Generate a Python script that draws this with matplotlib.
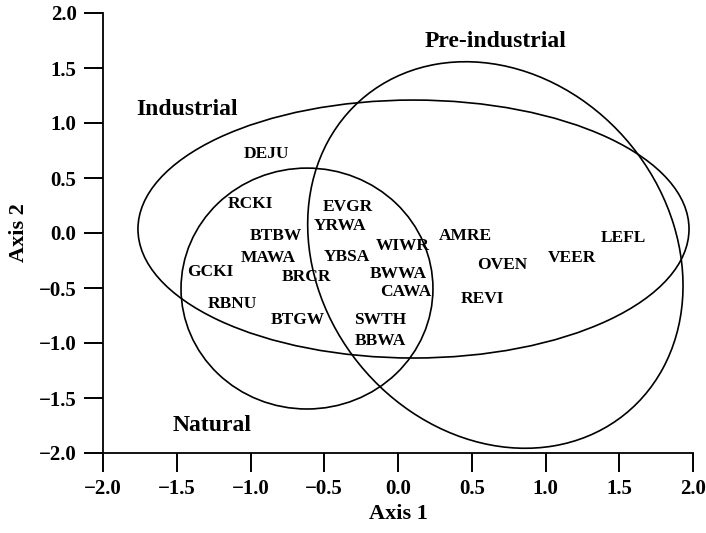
import matplotlib.pyplot as plt
from matplotlib.patches import Ellipse

plt.rcParams["font.family"] = "Liberation Serif"
plt.rcParams["font.weight"] = "bold"
plt.rcParams["axes.labelweight"] = "bold"
plt.rcParams["axes.linewidth"] = 1.3

plt.rcParams["xtick.major.size"] = 14
plt.rcParams["xtick.major.width"] = 1.4
plt.rcParams["ytick.major.size"] = 14
plt.rcParams["ytick.major.width"] = 1.4

species = ["DEJU", "RCKI", "EVGR", "YRWA", "BTBW", "WIWR", "MAWA", "YBSA",
           "GCKI", "BRCR", "BWWA", "CAWA", "RBNU", "BTGW", "SWTH", "BBWA",
           "AMRE", "OVEN", "VEER", "LEFL", "REVI"]
axis1 = [-0.89, -1.00, -0.34, -0.39, -0.83, 0.03, -0.88, -0.35,
         -1.27, -0.62, 0.00, 0.05, -1.12, -0.68, -0.12, -0.12,
         0.46, 0.71, 1.18, 1.53, 0.57]
axis2 = [0.72, 0.26, 0.24, 0.06, -0.03, -0.12, -0.23, -0.22,
         -0.35, -0.40, -0.37, -0.54, -0.65, -0.79, -0.79, -0.98,
         -0.03, -0.29, -0.23, -0.05, -0.60]

groups = ["Industrial", "Pre-industrial", "Natural"]
group_x = [-1.43, 0.66, -1.26]
group_y = [1.12, 1.74, -1.75]

# ellipse centre, width, height, angle for each group
ell_x = [0.105, 0.66, -0.617]
ell_y = [0.036, -0.20, -0.505]
ell_w = [3.736, 2.48, 1.708]
ell_h = [2.345, 3.56, 2.19]
ell_angle = [0, 12.9, 0]

ticks = [-2.0, -1.5, -1.0, -0.5, 0.0, 0.5, 1.0, 1.5, 2.0]
tick_labels = ["\u22122.0", "\u22121.5", "\u22121.0", "\u22120.5", "0.0",
               "0.5", "1.0", "1.5", "2.0"]


def main():
    fig = plt.figure(figsize=(7.06, 5.33), dpi=100)
    ax = fig.add_axes([103 / 706, 80 / 533, 590 / 706, 440 / 533])

    for k in range(len(groups)):
        ax.add_patch(Ellipse((ell_x[k], ell_y[k]), ell_w[k], ell_h[k],
                             angle=ell_angle[k], fill=False,
                             edgecolor="black", lw=1.2))
        ax.text(group_x[k], group_y[k], groups[k], fontsize=17,
                ha="center", va="center")

    for k in range(len(species)):
        ax.text(axis1[k], axis2[k], species[k], fontsize=12.5,
                ha="center", va="center")

    ax.set_xlim(-2, 2)
    ax.set_ylim(-2, 2)
    ax.set_xticks(ticks)
    ax.set_xticklabels(tick_labels, fontsize=15)
    ax.set_yticks(ticks)
    ax.set_yticklabels(tick_labels, fontsize=15)
    ax.tick_params(pad=5)

    ax.spines["top"].set_visible(False)
    ax.spines["right"].set_visible(False)

    ax.set_xlabel("Axis 1", fontsize=16, labelpad=3)
    ax.set_ylabel("Axis 2", fontsize=16, labelpad=7)

    plt.savefig("out.png")


if __name__ == "__main__":
    main()
